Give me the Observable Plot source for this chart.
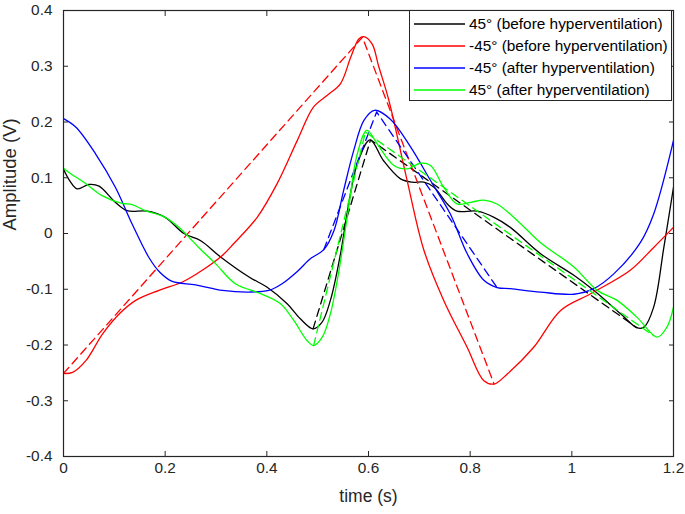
<!DOCTYPE html>
<html>
<head>
<meta charset="utf-8">
<script src="https://cdn.jsdelivr.net/npm/d3@7"></script>
<script src="https://cdn.jsdelivr.net/npm/@observablehq/plot@0.6"></script>
<style>
  html, body { margin: 0; padding: 0; background: white; }
  #wrap { position: relative; width: 685px; height: 514px; font-family: "Liberation Sans", Arial, sans-serif; }
  #legend { position: absolute; left: 409px; top: 10px; width: 263px; height: 91px; border: 1px solid #262626; background: white; box-sizing: border-box; padding-top: 2px; }
  .row { display: flex; align-items: center; height: 22px; font-size: 15.4px; color: #000; white-space: nowrap; }
  .row svg { margin-left: 4px; margin-right: 4px; }
</style>
</head>
<body>
<div id="wrap"></div>
<script>
// ---- data ----
const blackT = [0, 0.012, 0.027, 0.05, 0.07, 0.102, 0.125, 0.165, 0.20, 0.237, 0.27, 0.309, 0.365, 0.40, 0.44, 0.466, 0.491, 0.508, 0.525, 0.545, 0.561, 0.578, 0.603, 0.630, 0.663, 0.686, 0.709, 0.729, 0.755, 0.774, 0.814, 0.847, 0.879, 0.938, 1.004, 1.043, 1.096, 1.128, 1.142, 1.161, 1.181, 1.2];
const blackV = [0.115, 0.095, 0.080, 0.088, 0.085, 0.056, 0.041, 0.040, 0.029, 0.0, -0.013, -0.042, -0.078, -0.096, -0.126, -0.153, -0.171, -0.160, -0.12, -0.036, 0.053, 0.125, 0.168, 0.130, 0.098, 0.092, 0.092, 0.083, 0.053, 0.040, 0.040, 0.029, 0.011, -0.036, -0.075, -0.102, -0.144, -0.169, -0.168, -0.132, -0.025, 0.083];

const redT = [0, 0.018, 0.044, 0.077, 0.110, 0.142, 0.188, 0.234, 0.273, 0.313, 0.335, 0.381, 0.420, 0.460, 0.492, 0.519, 0.545, 0.565, 0.581, 0.591, 0.607, 0.620, 0.640, 0.676, 0.709, 0.748, 0.794, 0.827, 0.847, 0.873, 0.925, 0.978, 1.037, 1.115, 1.161, 1.2];
const redV = [-0.251, -0.249, -0.228, -0.180, -0.144, -0.120, -0.102, -0.087, -0.066, -0.039, -0.018, 0.029, 0.089, 0.167, 0.227, 0.248, 0.269, 0.316, 0.349, 0.353, 0.340, 0.300, 0.239, 0.095, -0.030, -0.120, -0.204, -0.264, -0.270, -0.252, -0.204, -0.138, -0.108, -0.066, -0.025, 0.011];

const blueT = [0, 0.024, 0.063, 0.102, 0.135, 0.168, 0.19, 0.214, 0.260, 0.313, 0.365, 0.404, 0.430, 0.460, 0.486, 0.512, 0.532, 0.551, 0.571, 0.591, 0.612, 0.643, 0.683, 0.722, 0.761, 0.794, 0.827, 0.853, 0.879, 0.938, 1.004, 1.043, 1.083, 1.135, 1.161, 1.2];
const blueV = [0.206, 0.191, 0.143, 0.083, 0.017, -0.043, -0.070, -0.086, -0.092, -0.102, -0.105, -0.102, -0.090, -0.068, -0.045, -0.029, 0.005, 0.077, 0.149, 0.203, 0.221, 0.205, 0.155, 0.095, 0.035, -0.036, -0.084, -0.097, -0.099, -0.105, -0.109, -0.099, -0.072, -0.016, 0.035, 0.167];

const greenT = [0, 0.01, 0.043, 0.076, 0.115, 0.135, 0.161, 0.20, 0.227, 0.266, 0.299, 0.338, 0.388, 0.427, 0.453, 0.479, 0.492, 0.509, 0.525, 0.542, 0.561, 0.578, 0.597, 0.617, 0.650, 0.676, 0.702, 0.722, 0.748, 0.774, 0.801, 0.827, 0.853, 0.893, 0.938, 1.004, 1.050, 1.089, 1.128, 1.168, 1.187, 1.2];
const greenV = [0.117, 0.110, 0.090, 0.068, 0.054, 0.052, 0.041, 0.029, 0.011, -0.025, -0.054, -0.090, -0.108, -0.126, -0.156, -0.192, -0.201, -0.186, -0.144, -0.066, 0.047, 0.143, 0.185, 0.161, 0.122, 0.116, 0.126, 0.122, 0.083, 0.053, 0.056, 0.060, 0.053, 0.023, -0.016, -0.060, -0.102, -0.120, -0.150, -0.186, -0.168, -0.132];

// dashed (piecewise-linear) fits
const blackDashT = [0.491, 0.604, 1.128];
const blackDashV = [-0.171, 0.168, -0.169];
const redDashT = [0, 0.588, 0.847];
const redDashV = [-0.251, 0.352, -0.270];
const blueDashT = [0.512, 0.616, 0.853];
const blueDashV = [-0.029, 0.218, -0.097];
const greenDashT = [0.492, 0.594, 1.16];
const greenDashV = [-0.201, 0.182, -0.183];

const seriesNames = ["45° (before hyperventilation)", "-45° (before hyperventilation)", "-45° (after hyperventilation)", "45° (after hyperventilation)"];
const seriesColors = ["#000000", "#ff0000", "#0000ff", "#00ff00"];

const xTicks = [0, 0.2, 0.4, 0.6, 0.8, 1, 1.2];
const xTickLabels = ["0", "0.2", "0.4", "0.6", "0.8", "1", "1.2"];
const yTicks = [-0.4, -0.3, -0.2, -0.1, 0, 0.1, 0.2, 0.3, 0.4];
const yTickLabels = ["-0.4", "-0.3", "-0.2", "-0.1", "0", "0.1", "0.2", "0.3", "0.4"];

// ---- build ----
const rows = (T, V) => T.map((t, i) => ({t, v: V[i]}));
const solids = [[blackT, blackV], [redT, redV], [blueT, blueV], [greenT, greenV]];
const dashes = [[blackDashT, blackDashV], [redDashT, redDashV], [blueDashT, blueDashV], [greenDashT, greenDashV]];

const axisColor = "#262626";
const fs = 15.4;
const fmtX = d => xTickLabels[xTicks.findIndex(t => Math.abs(t - d) < 1e-9)];
const fmtY = d => yTickLabels[yTicks.findIndex(t => Math.abs(t - d) < 1e-9)];

const marks = [];
solids.forEach(([T, V], k) => {
  marks.push(Plot.line(rows(T, V), {x: "t", y: "v", stroke: seriesColors[k], strokeWidth: 1.3, curve: "catmull-rom", clip: true}));
  marks.push(Plot.line(rows(dashes[k][0], dashes[k][1]), {x: "t", y: "v", stroke: seriesColors[k], strokeWidth: 1.3, strokeDasharray: "8,5", clip: true}));
});

marks.push(
  Plot.frame({stroke: axisColor, strokeWidth: 1.2}),
  Plot.axisX({anchor: "bottom", ticks: xTicks, tickFormat: fmtX, tickSize: -5, tickPadding: 11, stroke: axisColor, fill: axisColor, fontSize: fs, label: null}),
  Plot.axisX({anchor: "top", ticks: xTicks, tickFormat: () => "", tickSize: -5, stroke: axisColor, label: null}),
  Plot.axisY({anchor: "left", ticks: yTicks, tickFormat: fmtY, tickSize: -5, tickPadding: 16, stroke: axisColor, fill: axisColor, fontSize: fs, label: null}),
  Plot.axisY({anchor: "right", ticks: yTicks, tickFormat: () => "", tickSize: -5, stroke: axisColor, label: null}),
  Plot.text(["time (s)"], {frameAnchor: "bottom", dy: 45, text: d => d, fontSize: 17.5, fill: axisColor}),
  Plot.text(["Amplitude (V)"], {frameAnchor: "left", dx: -53, dy: -3, rotate: -90, text: d => d, fontSize: 18.5, fill: axisColor})
);

const chart = Plot.plot({
  width: 685,
  height: 514,
  marginLeft: 63,
  marginRight: 12,
  marginTop: 10,
  marginBottom: 58,
  x: {domain: [0, 1.2]},
  y: {domain: [-0.4, 0.4]},
  style: {fontFamily: '"Liberation Sans", Arial, sans-serif', background: "white", overflow: "visible"},
  marks
});

const wrap = document.getElementById("wrap");
wrap.appendChild(chart);

// legend overlay
const legend = document.createElement("div");
legend.id = "legend";
seriesNames.forEach((name, k) => {
  const row = document.createElement("div");
  row.className = "row";
  row.innerHTML = `<svg width="51" height="4"><line x1="0" y1="2" x2="51" y2="2" stroke="${seriesColors[k]}" stroke-width="1.3"/></svg><span>${name}</span>`;
  legend.appendChild(row);
});
wrap.appendChild(legend);
</script>
</body>
</html>
